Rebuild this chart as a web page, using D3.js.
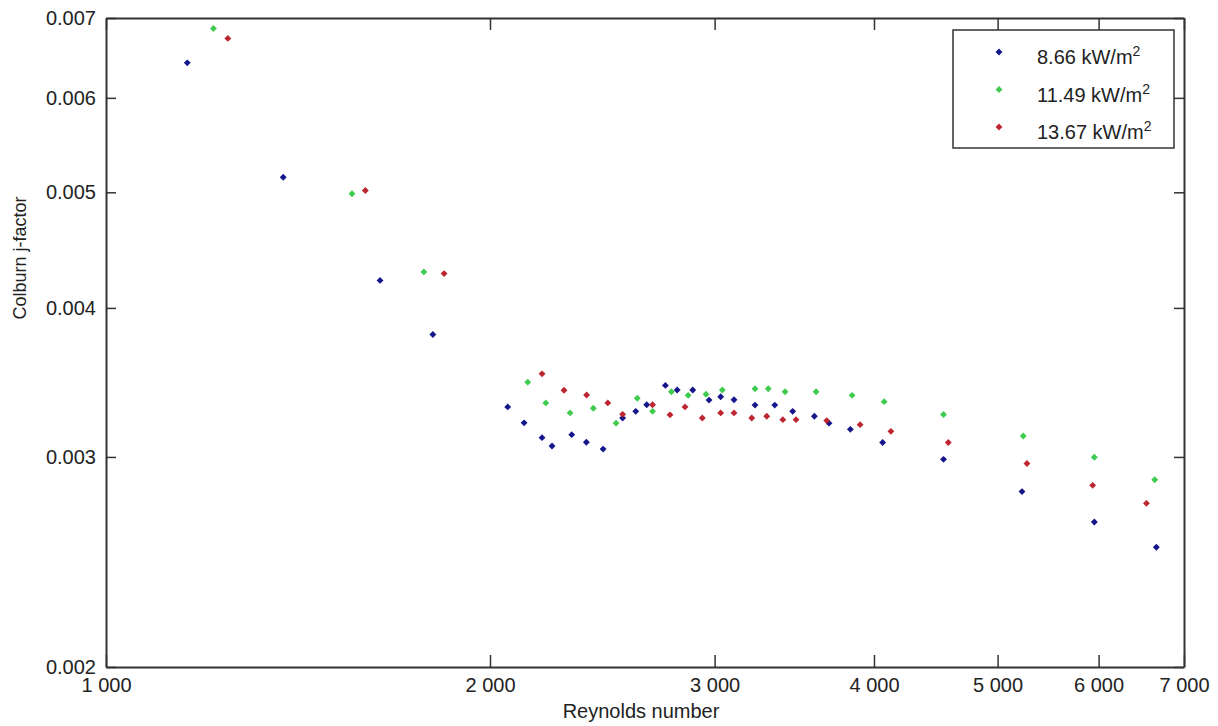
<!DOCTYPE html>
<html>
<head>
<meta charset="utf-8">
<script src="https://cdn.jsdelivr.net/npm/d3@7"></script>
<style>
  body { margin: 0; background: #fff; }
  svg text { font-family: "Liberation Sans", Arial, sans-serif; fill: #222; }
</style>
</head>
<body>
<div id="chart"></div>
<script>
// Reynolds number / Colburn j-factor, one pair of arrays per heat flux
const re866 = [1158, 1377, 1640, 1804, 2065, 2127, 2197, 2237, 2318, 2380, 2453, 2541, 2602, 2654, 2745, 2804, 2884, 2970, 3033, 3107, 3227, 3344, 3454, 3592, 3688, 3833, 4063, 4535, 5225, 5954, 6659];
const j866 = [0.00642, 0.005148, 0.004218, 0.0038, 0.003304, 0.003204, 0.003114, 0.003064, 0.003132, 0.003086, 0.003046, 0.003234, 0.003276, 0.003318, 0.003444, 0.003414, 0.003414, 0.003348, 0.00337, 0.00335, 0.003316, 0.003316, 0.003276, 0.003245, 0.003202, 0.003164, 0.003085, 0.002986, 0.002806, 0.002646, 0.00252];

const re1149 = [1214, 1559, 1775, 2141, 2212, 2311, 2410, 2511, 2609, 2682, 2775, 2860, 2954, 3042, 3227, 3305, 3407, 3603, 3845, 4074, 4535, 5237, 5954, 6639];
const j1149 = [0.00686, 0.004986, 0.004288, 0.003466, 0.00333, 0.003266, 0.003296, 0.003202, 0.00336, 0.003276, 0.003402, 0.003379, 0.003386, 0.003414, 0.003422, 0.003422, 0.003402, 0.003402, 0.003379, 0.003338, 0.003256, 0.003124, 0.002998, 0.002871];

const re1367 = [1246, 1597, 1841, 2197, 2286, 2381, 2474, 2541, 2682, 2768, 2844, 2934, 3033, 3107, 3208, 3296, 3393, 3475, 3673, 3901, 4124, 4574, 5272, 5936, 6541];
const j1367 = [0.00673, 0.005018, 0.004274, 0.003522, 0.003412, 0.003381, 0.00333, 0.003257, 0.003318, 0.003254, 0.003304, 0.003234, 0.003266, 0.003266, 0.003234, 0.003245, 0.003224, 0.003224, 0.003218, 0.003193, 0.003152, 0.003085, 0.002962, 0.00284, 0.002743];

const seriesNames = ["8.66 kW/m", "11.49 kW/m", "13.67 kW/m"];
const seriesColors = ["#15158c", "#3fcb4f", "#bd2530"];

const xTicks = [1000, 2000, 3000, 4000, 5000, 6000, 7000];
const yTicks = [0.002, 0.003, 0.004, 0.005, 0.006, 0.007];

const width = 1218, height = 726;
const margin = {top: 18, right: 34, bottom: 59, left: 106};

const svg = d3.select("#chart").append("svg")
  .attr("width", width).attr("height", height);

const x = d3.scaleLog().domain([1000, 7000]).range([margin.left, width - margin.right]);
const y = d3.scaleLog().domain([0.002, 0.007]).range([height - margin.bottom, margin.top]);

const fmtX = d => d3.format(",")(d).replace(",", " ");

// axes (ticks point inward like the MATLAB box)
const gx = svg.append("g")
  .attr("transform", `translate(0,${height - margin.bottom})`)
  .call(d3.axisBottom(x).tickValues(xTicks).tickFormat(fmtX).tickSizeInner(-12).tickSizeOuter(0).tickPadding(11));
const gxTop = svg.append("g")
  .attr("transform", `translate(0,${margin.top})`)
  .call(d3.axisTop(x).tickValues(xTicks).tickFormat("").tickSizeInner(-12).tickSizeOuter(0));
const gy = svg.append("g")
  .attr("transform", `translate(${margin.left},0)`)
  .call(d3.axisLeft(y).tickValues(yTicks).tickFormat(d3.format(".3f")).tickSizeInner(-10).tickSizeOuter(0).tickPadding(10));
const gyRight = svg.append("g")
  .attr("transform", `translate(${width - margin.right},0)`)
  .call(d3.axisRight(y).tickValues(yTicks).tickFormat("").tickSizeInner(-10).tickSizeOuter(0));

[gx, gxTop, gy, gyRight].forEach(g => {
  g.select(".domain").attr("stroke", "#333").attr("stroke-width", 2);
  g.selectAll(".tick line").attr("stroke", "#333").attr("stroke-width", 1.5);
  g.selectAll(".tick text").attr("font-size", 20).attr("font-family", "Liberation Sans, Arial, sans-serif").attr("fill", "#222");
});

// axis titles
svg.append("text")
  .attr("x", 641).attr("y", 718)
  .attr("text-anchor", "middle").attr("font-size", 20)
  .text("Reynolds number");
svg.append("text")
  .attr("transform", "translate(26,258) rotate(-90)")
  .attr("text-anchor", "middle").attr("font-size", 18)
  .text("Colburn j-factor");

// points
const diamond = d3.symbol().type(d3.symbolDiamond2).size(30);
const series = [
  {re: re866, j: j866},
  {re: re1149, j: j1149},
  {re: re1367, j: j1367}
];
series.forEach((s, k) => {
  svg.append("g").selectAll("path")
    .data(s.re.map((r, i) => [r, s.j[i]]))
    .join("path")
    .attr("d", diamond)
    .attr("transform", d => `translate(${x(d[0])},${y(d[1])})`)
    .attr("fill", seriesColors[k]);
});

// legend
const legend = svg.append("g");
legend.append("rect")
  .attr("x", 953).attr("y", 30).attr("width", 221).attr("height", 118)
  .attr("fill", "#fff").attr("stroke", "#333").attr("stroke-width", 1.5);
seriesNames.forEach((name, k) => {
  const cy = 52 + k * 37.5;
  legend.append("path")
    .attr("d", diamond)
    .attr("transform", `translate(999,${cy})`)
    .attr("fill", seriesColors[k]);
  const t = legend.append("text")
    .attr("x", 1037).attr("y", cy + 12).attr("font-size", 20);
  t.append("tspan").text(name);
  t.append("tspan").attr("font-size", 14).attr("dy", -8).text("2");
});
</script>
</body>
</html>
